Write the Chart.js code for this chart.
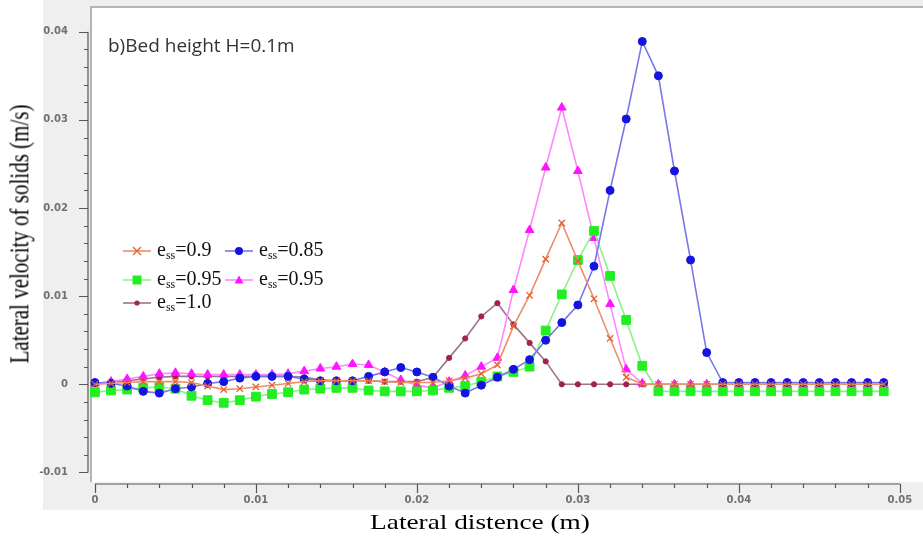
<!DOCTYPE html>
<html>
<head>
<meta charset="utf-8">
<script src="https://cdn.jsdelivr.net/npm/chart.js@4.4.1/dist/chart.umd.min.js"></script>
<style>
  body { margin: 0; background: #fff; }
  #wrap { position: relative; width: 923px; height: 541px; overflow: hidden; }
  #chart { position: absolute; left: 0; top: 0; }
  .note { position: absolute; left: 108px; top: 32px; font: 19px "Open Sans", sans-serif; color: #333; white-space: nowrap; }
  .ytitle { position: absolute; left: 20px; top: 234px; font: 21px "Liberation Serif", serif; color: #000; white-space: nowrap;
            transform: translate(-50%, -50%) scaleX(1.25) rotate(-90deg); }
  .xtitle { position: absolute; left: 480px; top: 522px; font: 21px "Liberation Serif", serif; color: #000; white-space: nowrap;
            transform: translate(-50%, -50%) scaleX(1.3); }
  .lg { position: absolute; display: flex; align-items: center; font: 20px "Liberation Serif", serif; color: #111; white-space: nowrap; }
  .lg svg { margin-right: 6px; }
  .lg sub { font-size: 12px; vertical-align: -3px; }
</style>
</head>
<body>
<div id="wrap">
  <canvas id="chart" width="923" height="541"></canvas>
  <div class="note">b)Bed height H=0.1m</div>
  <div class="ytitle">Lateral velocity of solids (m/s)</div>
  <div class="xtitle">Lateral distence (m)</div>
  <div id="legend"></div>
</div>
<script>
// lateral position of each sample (m)
const lateralDistance = [
  0, 0.001, 0.002, 0.003, 0.004, 0.005, 0.006, 0.007, 0.008, 0.009,
  0.010, 0.011, 0.012, 0.013, 0.014, 0.015, 0.016, 0.017, 0.018, 0.019,
  0.020, 0.021, 0.022, 0.023, 0.024, 0.025, 0.026, 0.027, 0.028, 0.029,
  0.030, 0.031, 0.032, 0.033, 0.034, 0.035, 0.036, 0.037, 0.038, 0.039,
  0.040, 0.041, 0.042, 0.043, 0.044, 0.045, 0.046, 0.047, 0.048, 0.049
];

// lateral velocity of solids (m/s), one list per restitution coefficient
const velEss09 = [
  0, 0.0001, 0.0002, 0.0003, 0.0003, 0.0003, 0.0002, -0.0002, -0.0006, -0.0005,
  -0.0003, -0.0001, 0.0001, 0.0003, 0.0004, 0.0004, 0.0004, 0.0004, 0.0003, 0.0002,
  0.0002, 0.0002, 0.0004, 0.0007, 0.0012, 0.0022, 0.0066, 0.0101, 0.0142, 0.0183,
  0.0140, 0.0097, 0.0052, 0.0008, 0, 0, 0, 0, 0, 0,
  0, 0, 0, 0, 0, 0, 0, 0, 0, 0
];
const velEss085 = [
  0.0002, 0.0001, -0.0002, -0.0008, -0.0010, -0.0005, -0.0003, 0.0001, 0.0003, 0.0007,
  0.0009, 0.0009, 0.0009, 0.0006, 0.0004, 0.0004, 0.0004, 0.0009, 0.0014, 0.0019,
  0.0014, 0.0008, -0.0002, -0.0010, -0.0001, 0.0008, 0.0017, 0.0028, 0.0050, 0.0070,
  0.0090, 0.0134, 0.0220, 0.0301, 0.0389, 0.0350, 0.0242, 0.0141, 0.0036, 0.0002,
  0.0002, 0.0002, 0.0002, 0.0002, 0.0002, 0.0002, 0.0002, 0.0002, 0.0002, 0.0002
];
const velEss095a = [
  -0.0009, -0.0007, -0.0006, -0.0004, -0.0003, -0.0005, -0.0013, -0.0018, -0.0021, -0.0018,
  -0.0014, -0.0011, -0.0009, -0.0006, -0.0005, -0.0004, -0.0004, -0.0007, -0.0008, -0.0008,
  -0.0008, -0.0007, -0.0004, -0.0002, 0.0003, 0.0009, 0.0014, 0.0020, 0.0061, 0.0102,
  0.0141, 0.0174, 0.0123, 0.0073, 0.0021, -0.0008, -0.0008, -0.0008, -0.0008, -0.0008,
  -0.0008, -0.0008, -0.0008, -0.0008, -0.0008, -0.0008, -0.0008, -0.0008, -0.0008, -0.0008
];
const velEss095b = [
  0.0001, 0.0003, 0.0006, 0.0009, 0.0012, 0.0013, 0.0012, 0.0011, 0.0011, 0.0011,
  0.0011, 0.0011, 0.0012, 0.0015, 0.0018, 0.0020, 0.0023, 0.0022, 0.0014, 0.0005,
  -0.0001, -0.0004, 0.0003, 0.0010, 0.0020, 0.0030, 0.0107, 0.0175, 0.0246, 0.0314,
  0.0242, 0.0166, 0.0091, 0.0017, 0.0001, 0, 0, 0, 0, 0,
  0, 0, 0, 0, 0, 0, 0, 0, 0, 0
];
const velEss10 = [
  0.0001, 0.0003, 0.0004, 0.0006, 0.0008, 0.0009, 0.0009, 0.0009, 0.0009, 0.0009,
  0.0009, 0.0009, 0.0009, 0.0008, 0.0005, 0.0004, 0.0004, 0.0004, 0.0003, 0.0003,
  0.0003, 0.0008, 0.0030, 0.0052, 0.0077, 0.0092, 0.0068, 0.0047, 0.0026, 0,
  0, 0, 0, 0, 0, 0, 0, 0, 0, 0,
  0, 0, 0, 0, 0, 0, 0, 0, 0, 0
];

const seriesLabels = ['0.9', '0.85', '0.95', '0.95', '1.0'];

// axis tick labels
const xTickLabels = [0, 0.01, 0.02, 0.03, 0.04, 0.05];
const yTickLabels = [-0.01, 0, 0.01, 0.02, 0.03, 0.04];
const minorStep = 0.002;

// look of each series, same order as the labels
const styles = [
  { line: '#ee8d6c', point: '#e4602e', shape: 'crossRot', r: 4.5 },
  { line: '#7878e6', point: '#1414e0', shape: 'circle',   r: 4 },
  { line: '#8cf08c', point: '#22ee22', shape: 'rect',     r: 6.2 },
  { line: '#ff88ff', point: '#ff14ff', shape: 'triangle', r: 5 },
  { line: '#9c7290', point: '#a3234c', shape: 'circle',   r: 2.6 }
];
const seriesValues = [velEss09, velEss085, velEss095a, velEss095b, velEss10];

function minorTicks(major) {
  const out = [];
  const lo = major[0], hi = major[major.length - 1];
  const n = Math.round((hi - lo) / minorStep);
  for (let i = 0; i <= n; i++) out.push(+(lo + i * minorStep).toFixed(4));
  return out;
}
function isMajor(v, major) {
  return major.some(m => Math.abs(m - v) < 1e-9);
}

const tickFont = { family: 'DejaVu Sans', size: 10, weight: 'bold' };

// grey panel, white plot box and the short axis lines
const framePlugin = {
  id: 'frame',
  beforeDraw(chart) {
    const c = chart.ctx;
    c.save();
    c.fillStyle = '#efefef';
    c.fillRect(43, 0, 880, 510);
    c.fillStyle = '#ffffff';
    c.fillRect(91, 7, 832, 475);
    c.strokeStyle = '#b4b4b4';
    c.lineWidth = 2;
    c.beginPath();
    c.moveTo(91, 482);
    c.lineTo(91, 7);
    c.lineTo(923, 7);
    c.stroke();
    c.restore();
  },
  afterDraw(chart) {
    const c = chart.ctx;
    const xs = chart.scales.x, ys = chart.scales.y;
    const ax = ys.right, ay = xs.top;
    c.save();
    c.strokeStyle = '#555';
    c.lineWidth = 1.2;
    c.beginPath();
    c.moveTo(ax, ys.getPixelForValue(yTickLabels[0]));
    c.lineTo(ax, ys.getPixelForValue(yTickLabels[yTickLabels.length - 1]));
    minorTicks(yTickLabels).forEach(v => {
      const p = Math.round(ys.getPixelForValue(v)) + 0.5;
      c.moveTo(ax, p);
      c.lineTo(ax - (isMajor(v, yTickLabels) ? 9 : 4), p);
    });
    c.moveTo(xs.getPixelForValue(xTickLabels[0]), ay);
    c.lineTo(xs.getPixelForValue(xTickLabels[xTickLabels.length - 1]), ay);
    minorTicks(xTickLabels).forEach(v => {
      const p = Math.round(xs.getPixelForValue(v)) + 0.5;
      c.moveTo(p, ay);
      c.lineTo(p, ay + (isMajor(v, xTickLabels) ? 9 : 4));
    });
    c.stroke();
    c.restore();
  }
};

const datasets = seriesValues.map((vals, i) => ({
  label: 'ess=' + seriesLabels[i],
  data: lateralDistance.map((x, k) => ({ x: x, y: vals[k] })),
  borderColor: styles[i].line,
  borderWidth: 1.6,
  pointStyle: styles[i].shape,
  pointRadius: styles[i].r,
  pointBackgroundColor: styles[i].point,
  pointBorderColor: styles[i].point,
  pointBorderWidth: styles[i].shape === 'crossRot' ? 1.3 : 1,
  tension: 0,
  fill: false
}));

new Chart(document.getElementById('chart'), {
  type: 'line',
  data: { datasets: datasets },
  options: {
    responsive: false,
    animation: false,
    devicePixelRatio: 1,
    layout: { padding: { top: 7, right: 2, bottom: 31, left: 0 } },
    plugins: { legend: { display: false }, tooltip: { enabled: false } },
    scales: {
      x: {
        type: 'linear',
        min: -0.00043,
        max: 0.05099,
        afterBuildTicks: s => { s.ticks = xTickLabels.map(v => ({ value: v })); },
        afterFit: s => { s.height = 26; },
        grid: { display: false, drawTicks: false },
        border: { display: false },
        ticks: {
          padding: 10, autoSkip: false, maxRotation: 0,
          color: '#707070', font: tickFont,
          callback: v => String(+v.toFixed(2))
        }
      },
      y: {
        min: -0.01131,
        max: 0.04065,
        afterBuildTicks: s => { s.ticks = yTickLabels.map(v => ({ value: v })); },
        afterFit: s => { s.width = 88; },
        grid: { display: false, drawTicks: false },
        border: { display: false },
        ticks: {
          padding: 20, autoSkip: false,
          color: '#707070', font: tickFont,
          callback: v => String(+v.toFixed(2))
        }
      }
    }
  },
  plugins: [framePlugin]
});

// legend with subscripted "ss"
const legendSlots = [[123, 250], [225, 250], [123, 279], [225, 279], [123, 302]];
function markerSvg(st) {
  let m = '';
  if (st.shape === 'crossRot') {
    m = '<path d="M10 5 L18 13 M18 5 L10 13" stroke="' + st.point + '" stroke-width="1.3"/>';
  } else if (st.shape === 'circle') {
    m = '<circle cx="14" cy="9" r="' + st.r + '" fill="' + st.point + '"/>';
  } else if (st.shape === 'rect') {
    m = '<rect x="9.5" y="4.5" width="9" height="9" fill="' + st.point + '"/>';
  } else {
    m = '<path d="M14 4.5 L18.5 12.5 L9.5 12.5 Z" fill="' + st.point + '"/>';
  }
  return '<svg width="28" height="18"><line x1="0" y1="9" x2="28" y2="9" stroke="' + st.line + '" stroke-width="1.6"/>' + m + '</svg>';
}
const legend = document.getElementById('legend');
seriesLabels.forEach((lab, i) => {
  const d = document.createElement('div');
  d.className = 'lg';
  d.style.left = legendSlots[i][0] + 'px';
  d.style.top = (legendSlots[i][1] - 12) + 'px';
  d.innerHTML = markerSvg(styles[i]) + '<span>e<sub>ss</sub>=' + lab + '</span>';
  legend.appendChild(d);
});
</script>
</body>
</html>
